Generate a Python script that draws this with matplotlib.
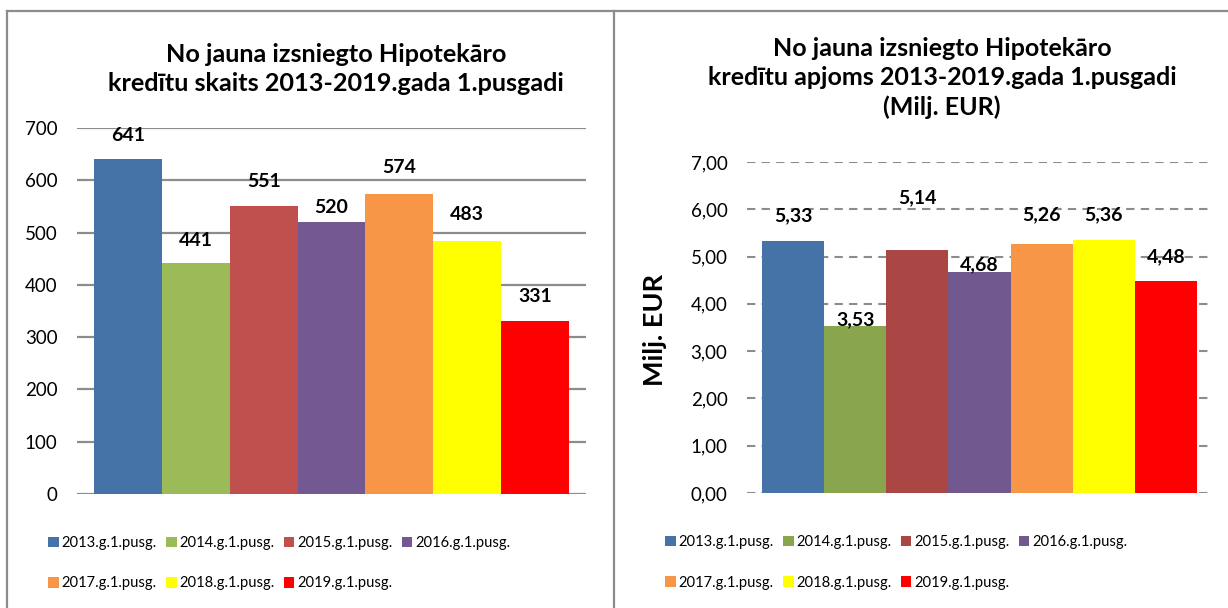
import matplotlib
matplotlib.use("Agg")
import matplotlib.pyplot as plt
from matplotlib.lines import Line2D

plt.rcParams['font.family'] = ['Lato', 'DejaVu Sans']

# ---- data ----
series = ["2013.g.1.pusg.", "2014.g.1.pusg.", "2015.g.1.pusg.", "2016.g.1.pusg.",
          "2017.g.1.pusg.", "2018.g.1.pusg.", "2019.g.1.pusg."]
count_values = [641, 441, 551, 520, 574, 483, 331]
volume_values = [5.33, 3.53, 5.14, 4.68, 5.26, 5.36, 4.48]
count_ticks = [0, 100, 200, 300, 400, 500, 600, 700]
volume_ticks = [0, 1, 2, 3, 4, 5, 6, 7]
title_left = "No jauna izsniegto Hipotekāro\nkredītu skaits 2013-2019.gada 1.pusgadi"
title_right = "No jauna izsniegto Hipotekāro\nkredītu apjoms 2013-2019.gada 1.pusgadi\n(Milj. EUR)"
ylabel_right = "Milj. EUR"

# ---- styles ----
colors_left = ["#4572A7", "#9BBB59", "#C0504D", "#735891", "#F79646", "#FFFF00", "#FF0000"]
colors_right = ["#4572A7", "#89A54E", "#AA4643", "#71588F", "#F79646", "#FFFF00", "#FF0000"]
label_offsets_left = [23, 23, 24, 15, 26, 27, 24]   # px above bar top
label_offsets_right = [25, 6, 52, 7, 30, 25, 24]

W, H = 1228, 608
fig = plt.figure(figsize=(W / 100, H / 100), dpi=100)
fig.patch.set_facecolor("white")


def box(x0, y0, x1, y1):
    return [x0 / W, 1 - y1 / H, (x1 - x0) / W, (y1 - y0) / H]


def fx(x):
    return x / W


def fy(y):
    return 1 - y / H


# panel borders
bc = "#8C8C8C"
fig.add_artist(Line2D([fx(7), fx(1228)], [fy(10.5), fy(10.5)], color=bc, lw=1.6))
fig.add_artist(Line2D([fx(7), fx(7)], [fy(10.5), fy(608)], color=bc, lw=1.6))
fig.add_artist(Line2D([fx(614.5), fx(614.5)], [fy(10.5), fy(608)], color=bc, lw=1.6))


def draw(ax, values, colors, ticks, ymax, offsets, fmt, dashed, gap_units):
    n = len(values)
    xs = list(range(n))
    bars = []
    for i in xs:
        b = ax.bar(i, values[i], width=1.0, color=colors[i], label=series[i], zorder=3)
        bars.append(b)
    ax.set_xlim(-0.5 - gap_units, n - 0.5 + gap_units)
    ax.set_ylim(0, ymax)
    ax.set_yticks(ticks)
    ax.set_yticklabels([fmt(t) for t in ticks])
    ax.set_xticks([])
    for s in ax.spines.values():
        s.set_visible(False)
    ax.tick_params(axis='y', length=0, pad=14, labelsize=13.5, colors="#000000")
    if dashed:
        ax.yaxis.grid(True, color="#8C8C8C", lw=1.5, linestyle=(0, (4, 3)), zorder=0)
    else:
        ax.yaxis.grid(True, color="#8C8C8C", lw=1.6, zorder=0)
    ax.set_axisbelow(True)
    for i in xs:
        ax.annotate(fmt(values[i]), (i, values[i]), xytext=(0, offsets[i] * 0.72),
                    textcoords="offset points", ha="center", va="center",
                    fontsize=14, fontweight="bold", zorder=5)
    return bars


# left chart
axL = fig.add_axes(box(77, 128, 586, 494))
barsL = draw(axL, count_values, colors_left, count_ticks, 700, label_offsets_left,
             lambda v: f"{v:d}", False, 17 / 67.86)
fig.text(fx(336), fy(69), title_left, ha="center", va="center", fontsize=18.2,
         fontweight="bold", linespacing=1.3)

# right chart
axR = fig.add_axes(box(747, 162, 1212, 493))
barsR = draw(axR, volume_values, colors_right, volume_ticks, 7, label_offsets_right,
             lambda v: f"{v:.2f}".replace(".", ","), True, 15 / 62.14)
fig.text(fx(942), fy(78), title_right, ha="center", va="center", fontsize=18,
         fontweight="bold", linespacing=1.3)
fig.text(fx(655), fy(330), ylabel_right, ha="center", va="center", rotation=90,
         fontsize=19.5, fontweight="bold")


def legend(bars, x, y):
    handles = [b.patches[0] for b in bars]
    order = [0, 4, 1, 5, 2, 6, 3]
    fig.legend([handles[i] for i in order], [series[i] for i in order],
               loc="upper left", bbox_to_anchor=(fx(x), fy(y)), ncol=4,
               frameon=False, fontsize=10.6, handlelength=0.72, handleheight=0.72,
               handletextpad=0.22, columnspacing=0.6, labelspacing=1.8,
               borderpad=0, borderaxespad=0)


legend(barsL, 48, 536)
legend(barsR, 665, 535)

fig.savefig("out.png", dpi=100, facecolor="white")
